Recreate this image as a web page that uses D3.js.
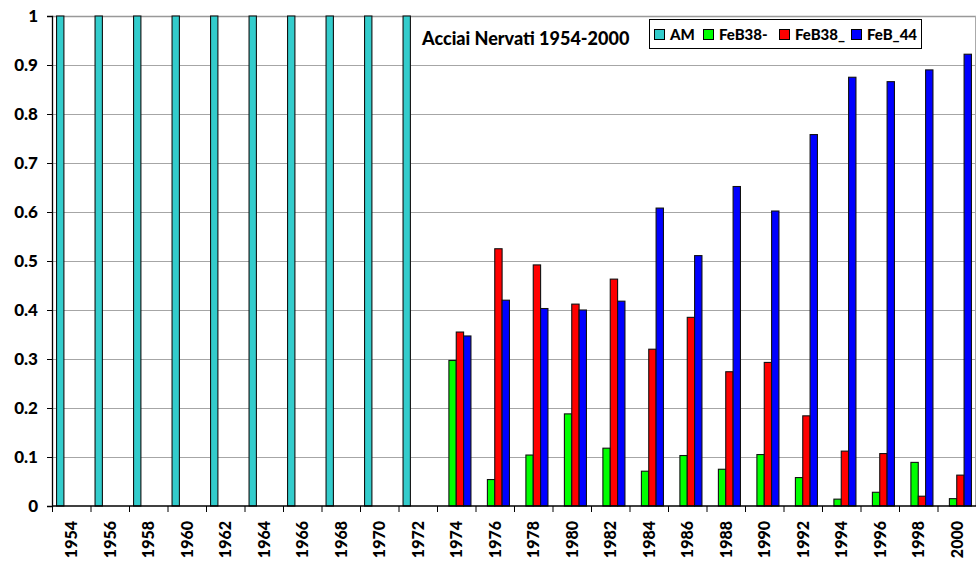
<!DOCTYPE html>
<html>
<head>
<meta charset="utf-8">
<script src="https://cdn.jsdelivr.net/npm/d3@7"></script>
<style>
  body { margin: 0; background: #fff; }
  svg { display: block; font-family: Lato, "Open Sans", sans-serif; font-weight: 900; }
</style>
</head>
<body>
<div class="chart"></div>
<script>
// years on the x axis
const years = ['1954', '1956', '1958', '1960', '1962', '1964', '1966', '1968', '1970', '1972',
  '1974', '1976', '1978', '1980', '1982', '1984', '1986', '1988', '1990', '1992',
  '1994', '1996', '1998', '2000'];

const seriesNames = ['AM', 'FeB38-', 'FeB38_', 'FeB_44'];
const seriesColors = ['#33CCCC', '#00FF00', '#FF0000', '#0000FF'];

// values (share, 0..1)
const am = [1, 1, 1, 1, 1, 1, 1, 1, 1, 1,
  0, 0, 0, 0, 0, 0, 0, 0, 0, 0, 0, 0, 0, 0];
const feb38minus = [0, 0, 0, 0, 0, 0, 0, 0, 0, 0,
  0.297, 0.054, 0.104, 0.188, 0.118, 0.071, 0.103, 0.075, 0.105, 0.058, 0.014, 0.028, 0.089, 0.015];
const feb38under = [0, 0, 0, 0, 0, 0, 0, 0, 0, 0,
  0.355, 0.525, 0.492, 0.412, 0.463, 0.320, 0.385, 0.274, 0.293, 0.184, 0.112, 0.107, 0.020, 0.063];
const feb44 = [0, 0, 0, 0, 0, 0, 0, 0, 0, 0,
  0.347, 0.420, 0.403, 0.400, 0.418, 0.608, 0.511, 0.652, 0.602, 0.758, 0.875, 0.866, 0.890, 0.922];

const yTicks = [0, 0.1, 0.2, 0.3, 0.4, 0.5, 0.6, 0.7, 0.8, 0.9, 1];

const seriesValues = [am, feb38minus, feb38under, feb44];

const width = 977;
const height = 574;
const margin = { top: 16, right: 1, bottom: 68, left: 52 };

const svg = d3.select('.chart')
  .append('svg')
  .attr('width', width)
  .attr('height', height);

const x0 = d3.scaleBand()
  .domain(years)
  .range([margin.left, width - margin.right])
  .paddingInner(0)
  .paddingOuter(0);

const x1 = d3.scaleBand()
  .domain(seriesNames)
  .range([0, x0.bandwidth()])
  .paddingInner(0)
  .paddingOuter(0.62);

const y = d3.scaleLinear()
  .domain([0, 1])
  .range([height - margin.bottom, margin.top]);

// gridlines
svg.append('g')
  .selectAll('line')
  .data(yTicks.slice(1))
  .enter().append('line')
  .attr('x1', margin.left)
  .attr('x2', width - margin.right)
  .attr('y1', d => Math.round(y(d)) + 0.5)
  .attr('y2', d => Math.round(y(d)) + 0.5)
  .attr('stroke', d => d === 1 ? '#999' : '#a6a6a6')
  .attr('stroke-width', d => d === 1 ? 1.5 : 1);

// right border of plot area
svg.append('line')
  .attr('x1', width - margin.right - 0.5)
  .attr('x2', width - margin.right - 0.5)
  .attr('y1', margin.top)
  .attr('y2', y(0))
  .attr('stroke', '#aaa');

// bars
const groups = svg.append('g')
  .selectAll('g')
  .data(years)
  .enter().append('g')
  .attr('transform', d => `translate(${x0(d)},0)`);

groups.selectAll('rect')
  .data((d, i) => seriesNames.map((s, k) => ({ key: s, value: seriesValues[k][i], color: seriesColors[k] })))
  .enter().append('rect')
  .filter(d => d.value > 0)
  .attr('x', d => x1(d.key))
  .attr('y', d => y(d.value))
  .attr('width', x1.bandwidth())
  .attr('height', d => y(0) - y(d.value))
  .attr('fill', d => d.color)
  .attr('stroke', '#111')
  .attr('stroke-width', 1.1);

// y axis
const yAxis = svg.append('g')
  .attr('transform', `translate(${margin.left},0)`)
  .call(d3.axisLeft(y).tickValues(yTicks).tickFormat(d => String(d)).tickSize(5).tickPadding(9));
yAxis.select('.domain').attr('stroke', '#000').attr('stroke-width', 1.3);
yAxis.selectAll('.tick line').attr('stroke', '#000');
yAxis.selectAll('.tick text')
  .attr('fill', '#000')
  .style('font-size', '17px')
  .style('font-weight', '900')
  .style('font-family', 'Lato, sans-serif');

// x axis: ticks at category boundaries
const xAxisG = svg.append('g')
  .attr('transform', `translate(0,${y(0)})`);
xAxisG.append('line')
  .attr('x1', margin.left)
  .attr('x2', width - margin.right)
  .attr('stroke', '#000')
  .attr('stroke-width', 1.3);
xAxisG.selectAll('.bound')
  .data(years)
  .enter().append('line')
  .attr('class', 'bound')
  .attr('x1', d => x0(d) + 0.5)
  .attr('x2', d => x0(d) + 0.5)
  .attr('y1', 0)
  .attr('y2', 6)
  .attr('stroke', '#000');
xAxisG.selectAll('.lbl')
  .data(years)
  .enter().append('text')
  .attr('class', 'lbl')
  .attr('transform', d => `translate(${x0(d) + x0.bandwidth() / 2 + 6},15) rotate(-90)`)
  .attr('text-anchor', 'end')
  .style('font-size', '16px')
  .text(d => d);

// title
svg.append('text')
  .attr('x', 422)
  .attr('y', 45)
  .style('font-size', '18px')
  .text('Acciai Nervati 1954-2000');

// legend
const legend = svg.append('g');
legend.append('rect')
  .attr('x', 649.5)
  .attr('y', 19.5)
  .attr('width', 272)
  .attr('height', 29)
  .attr('fill', '#fff')
  .attr('stroke', '#000');

const legendX = [654, 703, 779, 851];
seriesNames.forEach((name, k) => {
  legend.append('rect')
    .attr('x', legendX[k] + 0.5)
    .attr('y', 29.5)
    .attr('width', 10)
    .attr('height', 10)
    .attr('fill', seriesColors[k])
    .attr('stroke', '#000');
  legend.append('text')
    .attr('x', legendX[k] + 16)
    .attr('y', 40)
    .style('font-size', '15px')
    .text(name);
});
</script>
</body>
</html>
